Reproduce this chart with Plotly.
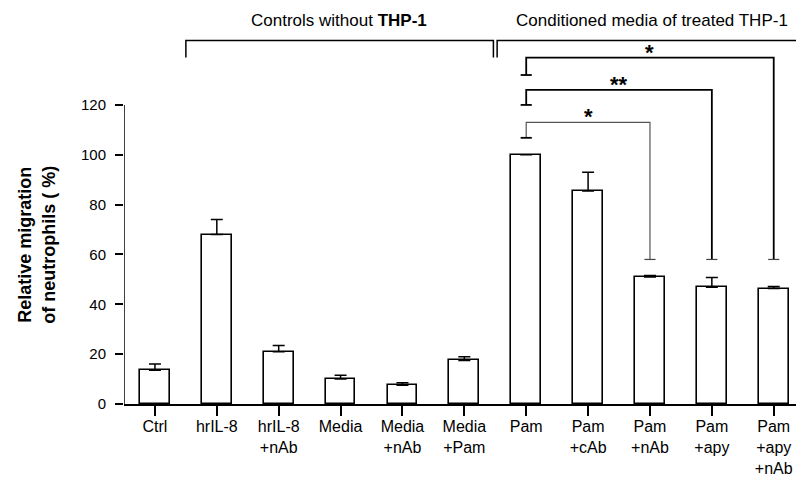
import plotly.graph_objects as go

categories = ["Ctrl", "hrIL-8", "hrIL-8<br>+nAb", "Media", "Media<br>+nAb", "Media<br>+Pam",
              "Pam", "Pam<br>+cAb", "Pam<br>+nAb", "Pam<br>+apy", "Pam<br>+apy<br>+nAb"]
values = [13.5, 68, 21, 10, 7.5, 17.5, 100, 85.5, 51, 46.8, 46.3]
errors = [2.5, 6, 2.5, 1.5, 1, 1.5, 0, 7.5, 0.6, 4, 0.8]
y_ticks = [0, 20, 40, 60, 80, 100, 120]

# significance comparisons: (from index, to index, label, bracket level, left end, right end)
comparisons = [
    (6, 8, "*", 113, 106.8, 58),
    (6, 9, "**", 126, 120, 58),
    (6, 10, "*", 139, 132, 58),
]
group_labels = ["Controls without <b>THP-1</b>", "Conditioned media of treated THP-1"]

FONT = "Arial, Liberation Sans, sans-serif"
x = list(range(len(categories)))

fig = go.Figure()
fig.add_trace(go.Bar(
    x=x, y=values, width=0.48,
    marker=dict(color="white", line=dict(color="black", width=1.6)),
    error_y=dict(type="data", array=errors, arrayminus=[0] * len(errors), symmetric=False,
                 color="black", thickness=1.5, width=6),
    showlegend=False,
))

shapes = []
# y axis line
shapes.append(dict(type="line", xref="x", yref="y", x0=-0.5, x1=-0.5, y0=-3.5, y1=120,
                   line=dict(color="black", width=1.5)))

# comparisons brackets
tw = 0.09
for i, (a, b, lab, lvl, le, re) in enumerate(comparisons):
    col = "#555" if i == 0 else "black"
    lw = 1.2 if i == 0 else 1.8
    shapes.append(dict(type="path", xref="x", yref="y",
                       path=f"M {a},{le} L {a},{lvl} L {b},{lvl} L {b},{re}",
                       line=dict(color=col, width=lw)))
    shapes.append(dict(type="line", xref="x", yref="y", x0=a - tw, x1=a + tw, y0=le, y1=le,
                       line=dict(color="black", width=1.8)))
    shapes.append(dict(type="line", xref="x", yref="y", x0=b - tw, x1=b + tw, y0=re, y1=re,
                       line=dict(color="#444", width=1.2)))

# group brackets
gy, gl = 145.8, 139
shapes.append(dict(type="path", xref="x", yref="y",
                   path=f"M 0.5,{gl} L 0.5,{gy} L 5.47,{gy} L 5.47,{gl}",
                   line=dict(color="black", width=1.5)))
shapes.append(dict(type="path", xref="x", yref="y",
                   path=f"M 5.53,{gl} L 5.53,{gy} L 10.5,{gy}",
                   line=dict(color="black", width=1.5)))

annotations = []
for i, (a, b, lab, lvl, le, re) in enumerate(comparisons):
    annotations.append(dict(x=(a + b) / 2, y=lvl, xref="x", yref="y", text=f"<b>{lab}</b>",
                            showarrow=False, yanchor="bottom", yshift=-9,
                            font=dict(family=FONT, size=22, color="black")))
annotations.append(dict(x=2.97, y=154, xref="x", yref="y", text=group_labels[0], showarrow=False,
                        font=dict(family=FONT, size=17, color="black")))
annotations.append(dict(x=8.04, y=154, xref="x", yref="y", text=group_labels[1], showarrow=False,
                        font=dict(family=FONT, size=17, color="black")))
annotations.append(dict(x=-0.1295, y=0.394, xref="paper", yref="paper", xanchor="center",
                        yanchor="middle",
                        text="<b>Relative migration<br>of neutrophils ( %)</b>", textangle=-90,
                        showarrow=False, font=dict(family=FONT, size=18, color="black")))

fig.update_layout(
    width=796, height=477,
    margin=dict(l=124, r=0, t=0, b=73),
    plot_bgcolor="white", paper_bgcolor="white",
    shapes=shapes, annotations=annotations,
    bargap=0,
    font=dict(family=FONT, size=16, color="black"),
    xaxis=dict(range=[-0.5, 10.36], tickmode="array", tickvals=x, ticktext=categories,
               ticks="outside", ticklen=10, tickwidth=1.5, tickcolor="black", automargin=False,
               showline=True, linecolor="black", linewidth=1.5, showgrid=False,
               ticklabelstandoff=-3,
               tickfont=dict(family=FONT, size=16, color="black")),
    yaxis=dict(range=[0, 162.1], tickvals=y_ticks, ticks="outside", ticklen=8, tickwidth=1.5,
               tickcolor="black", showline=False, showgrid=False, zeroline=False, automargin=False,
               ticklabelstandoff=6,
               tickfont=dict(family=FONT, size=15, color="black")),
)
fig.write_html("out.html")
